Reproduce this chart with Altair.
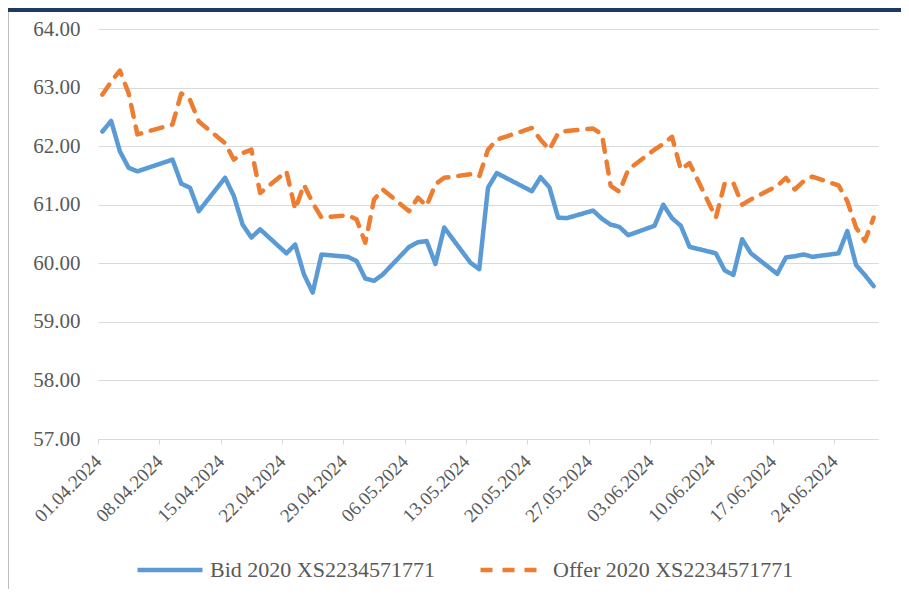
import altair as alt
import pandas as pd

# trading dates (UTC calendar dates)
dates = [
    "2024-04-01", "2024-04-02", "2024-04-03", "2024-04-04", "2024-04-05",
    "2024-04-09", "2024-04-10", "2024-04-11", "2024-04-12",
    "2024-04-15", "2024-04-16", "2024-04-17", "2024-04-18", "2024-04-19",
    "2024-04-22", "2024-04-23", "2024-04-24", "2024-04-25", "2024-04-26",
    "2024-04-29", "2024-04-30", "2024-05-01", "2024-05-02", "2024-05-03",
    "2024-05-06", "2024-05-07", "2024-05-08", "2024-05-09", "2024-05-10",
    "2024-05-13", "2024-05-14", "2024-05-15", "2024-05-16",
    "2024-05-20", "2024-05-21", "2024-05-22", "2024-05-23", "2024-05-24",
    "2024-05-27", "2024-05-28", "2024-05-29", "2024-05-30", "2024-05-31",
    "2024-06-03", "2024-06-04", "2024-06-05", "2024-06-06", "2024-06-07",
    "2024-06-10", "2024-06-11", "2024-06-12", "2024-06-13", "2024-06-14",
    "2024-06-17", "2024-06-18", "2024-06-19", "2024-06-20", "2024-06-21",
    "2024-06-24", "2024-06-25", "2024-06-26", "2024-06-27", "2024-06-28",
]

bid = [
    62.25, 62.43, 61.91, 61.63, 61.57,
    61.77, 61.36, 61.29, 60.89,
    61.46, 61.15, 60.66, 60.44, 60.58,
    60.17, 60.32, 59.81, 59.50, 60.15,
    60.11, 60.04, 59.74, 59.70, 59.81,
    60.28, 60.36, 60.38, 59.99, 60.61,
    60.01, 59.90, 61.29, 61.54,
    61.23, 61.47, 61.30, 60.78, 60.77,
    60.90, 60.76, 60.66, 60.62, 60.48,
    60.64, 61.00, 60.77, 60.64, 60.28,
    60.17, 59.88, 59.80, 60.41, 60.17,
    59.82, 60.10, 60.12, 60.15, 60.11,
    60.17, 60.55, 59.97, 59.80, 59.61,
]

offer = [
    62.88, 63.10, 63.29, 62.90, 62.20,
    62.37, 62.90, 62.79, 62.42,
    62.05, 61.77, 61.88, 61.94, 61.20,
    61.57, 60.92, 61.34, 61.03, 60.78,
    60.82, 60.75, 60.35, 61.09, 61.26,
    60.89, 61.12, 60.98, 61.35, 61.46,
    61.52, 61.48, 61.94, 62.11,
    62.31, 62.11, 61.94, 62.22, 62.26,
    62.30, 62.20, 61.32, 61.22, 61.60,
    61.94, 62.04, 62.16, 61.60, 61.71,
    60.78, 61.36, 61.37, 61.00, 61.09,
    61.32, 61.46, 61.26, 61.40, 61.48,
    61.33, 61.06, 60.61, 60.38, 60.78,
]

series_names = ["Bid 2020 XS2234571771", "Offer 2020 XS2234571771"]
series_colors = ["#5B9BD5", "#ED7D31"]
y_ticks = [57, 58, 59, 60, 61, 62, 63, 64]
x_tick_dates = [
    (4, 1), (4, 8), (4, 15), (4, 22), (4, 29), (5, 6), (5, 13),
    (5, 20), (5, 27), (6, 3), (6, 10), (6, 17), (6, 24),
]

df = pd.DataFrame({
    "date": dates * 2,
    "value": bid + offer,
    "series": [series_names[0]] * len(dates) + [series_names[1]] * len(dates),
})

FONT = "Liberation Serif, Times New Roman, DejaVu Serif, serif"
GRID = "#D9D9D9"
TXT = "#595959"

x_enc = alt.X(
    "t:T",
    scale=alt.Scale(
        type="utc",
        domain=[alt.DateTime(year=2024, month=4, date=1, utc=True),
                alt.DateTime(year=2024, month=6, date=29, utc=True)],
        nice=False,
    ),
    axis=alt.Axis(
        title=None,
        values=[alt.DateTime(year=2024, month=m, date=d, utc=True) for m, d in x_tick_dates],
        labelExpr="utcFormat(datum.value, '%d.%m.%Y')",
        labelAngle=-45,
        labelAlign="right",
        labelBaseline="middle",
        labelPadding=14,
        grid=False,
        domainColor=GRID,
        tickColor=GRID,
        tickSize=5,
        labelFont=FONT,
        labelFontSize=19,
        labelColor=TXT,
        labelOverlap=False,
    ),
)

y_enc = alt.Y(
    "value:Q",
    scale=alt.Scale(domain=[57, 64], nice=False, zero=False),
    axis=alt.Axis(
        title=None,
        values=y_ticks,
        format=".2f",
        grid=True,
        gridColor=GRID,
        domain=False,
        ticks=False,
        labelPadding=18,
        labelFont=FONT,
        labelFontSize=21,
        labelColor=TXT,
    ),
)

lines = (
    alt.Chart(df)
    .transform_calculate(t="time(toDate(datum.date)) + 43200000")
    .mark_line(strokeWidth=4.5, strokeCap="round", strokeJoin="round")
    .encode(
        x=x_enc,
        y=y_enc,
        color=alt.Color(
            "series:N",
            scale=alt.Scale(domain=series_names, range=series_colors),
            legend=alt.Legend(title=None),
        ),
        strokeDash=alt.StrokeDash(
            "series:N",
            scale=alt.Scale(domain=series_names, range=[[1, 0], [12, 10]]),
            legend=alt.Legend(title=None),
        ),
    )
)

frame_df = pd.DataFrame({"k": [0]})
top_band = alt.Chart(frame_df).mark_rule(color="#1F3864", strokeWidth=4).encode(
    x=alt.value(-90), x2=alt.value(803), y=alt.value(-19)
)
left_border = alt.Chart(frame_df).mark_rule(color="#BFBFBF", strokeWidth=1).encode(
    x=alt.value(-89.5), y=alt.value(-17), y2=alt.value(564)
)

chart = (
    alt.layer(lines, top_band, left_border)
    .properties(
        width=780,
        height=410,
        autosize=alt.AutoSizeParams(type="none"),
        padding={"left": 90, "top": 21, "right": 23, "bottom": 150},
    )
    .configure_view(stroke="transparent")
    .configure_legend(
        orient="none",
        legendX=37,
        legendY=506,
        direction="horizontal",
        symbolType="stroke",
        symbolSize=4225,
        symbolStrokeWidth=4.5,
        labelFont=FONT,
        labelFontSize=22,
        labelColor=TXT,
        labelLimit=400,
        columnPadding=36,
        labelOffset=5,
    )
)

chart.save("out.html", embed_options={"renderer": "svg", "actions": False})
